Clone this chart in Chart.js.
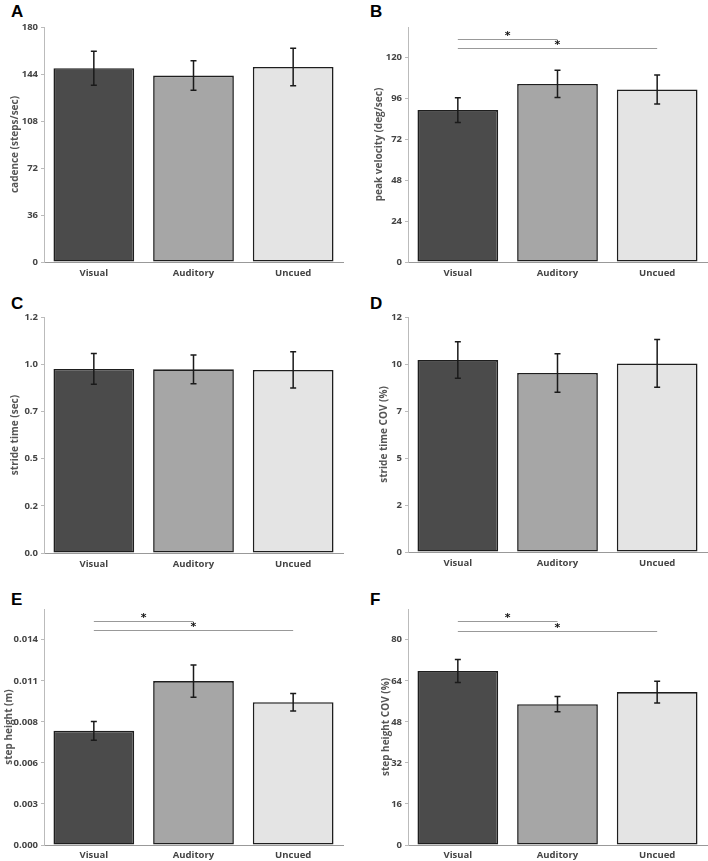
<!DOCTYPE html>
<html>
<head>
<meta charset="utf-8">
<script src="https://cdn.jsdelivr.net/npm/chart.js@4.4.0/dist/chart.umd.min.js"></script>
<style>
  body { margin: 0; background: #fff; width: 708px; height: 861px; position: relative; overflow: hidden; }
  canvas { position: absolute; }
  .lbl { position: absolute; font: bold 17px "Liberation Sans", Arial, sans-serif; color: #000; }
</style>
</head>
<body>
<div class="lbl" style="left:11px;top:2px">A</div>
<div class="lbl" style="left:370px;top:2px">B</div>
<div class="lbl" style="left:11px;top:294px">C</div>
<div class="lbl" style="left:370px;top:294px">D</div>
<div class="lbl" style="left:11px;top:590px">E</div>
<div class="lbl" style="left:370px;top:590px">F</div>
<canvas id="chartA"></canvas>
<canvas id="chartB"></canvas>
<canvas id="chartC"></canvas>
<canvas id="chartD"></canvas>
<canvas id="chartE"></canvas>
<canvas id="chartF"></canvas>
<script>
const conditions = ["Visual", "Auditory", "Uncued"];
const barColors = ["#4b4b4b", "#a6a6a6", "#e4e4e4"];

// A - cadence
const cadenceMean = [148.4, 142.8, 149.4];
const cadenceErr = [13.0, 11.3, 14.4];
const cadenceTicks = [0, 36, 72, 108, 144, 180];

// B - peak velocity
const velocityMean = [89.2, 104.6, 101.3];
const velocityErr = [7.3, 8.0, 8.5];
const velocityTicks = [0, 24, 48, 72, 96, 120];
const velocitySig = [[0, 1, 130.9], [0, 2, 125.5]];

// C - stride time
const strideMean = [0.936, 0.934, 0.931];
const strideErr = [0.078, 0.073, 0.092];
const strideTicks = [0, 0.24, 0.48, 0.72, 0.96, 1.2];

// D - stride time COV
const strideCovMean = [9.80, 9.14, 9.63];
const strideCovErr = [0.93, 0.98, 1.22];
const strideCovTicks = [0, 2.4, 4.8, 7.2, 9.6, 12];

// E - step height
const stepMean = [0.00779, 0.01118, 0.00974];
const stepErr = [0.00064, 0.0011, 0.0006];
const stepTicks = [0, 0.0028, 0.0056, 0.0084, 0.0112, 0.014];
const stepSig = [[0, 1, 0.01527], [0, 2, 0.01464]];

// F - step height COV
const stepCovMean = [67.8, 54.9, 59.6];
const stepCovErr = [4.5, 3.0, 4.2];
const stepCovTicks = [0, 16, 32, 48, 64, 80];
const stepCovSig = [[0, 1, 87.3], [0, 2, 83.6]];

const fontFam = "'Open Sans', sans-serif";

const errorBarPlugin = {
  id: "errorBars",
  afterDatasetsDraw(chart, args, opts) {
    const ctx = chart.ctx;
    const meta = chart.getDatasetMeta(0);
    const y = chart.scales.y;
    const means = chart.data.datasets[0].data;
    ctx.save();
    ctx.strokeStyle = "#1a1a1a";
    ctx.lineWidth = 1.5;
    meta.data.forEach((bar, i) => {
      const hi = y.getPixelForValue(means[i] + opts.errors[i]);
      const lo = y.getPixelForValue(means[i] - opts.errors[i]);
      ctx.beginPath();
      ctx.moveTo(bar.x, hi);
      ctx.lineTo(bar.x, lo);
      ctx.moveTo(bar.x - 3, hi);
      ctx.lineTo(bar.x + 3, hi);
      ctx.moveTo(bar.x - 3, lo);
      ctx.lineTo(bar.x + 3, lo);
      ctx.stroke();
    });
    (opts.sig || []).forEach((s) => {
      const x1 = meta.data[s[0]].x;
      const x2 = meta.data[s[1]].x;
      const py = Math.round(y.getPixelForValue(s[2])) + 0.5;
      ctx.strokeStyle = "#999";
      ctx.lineWidth = 1;
      ctx.beginPath();
      ctx.moveTo(x1, py);
      ctx.lineTo(x2, py);
      ctx.stroke();
      ctx.fillStyle = "#111";
      ctx.font = "bold 11px 'DejaVu Sans', sans-serif";
      ctx.textAlign = "center";
      ctx.textBaseline = "alphabetic";
      ctx.fillText("*", (x1 + x2) / 2, py - 1);
    });
    ctx.restore();
  },
};

const makeChart = function (id, cfg) {
  const canvas = document.getElementById(id);
  canvas.width = cfg.w;
  canvas.height = cfg.h;
  canvas.style.left = cfg.x + "px";
  canvas.style.top = cfg.y + "px";
  canvas.style.width = cfg.w + "px";
  canvas.style.height = cfg.h + "px";

  new Chart(canvas, {
    type: "bar",
    data: {
      labels: conditions,
      datasets: [
        {
          data: cfg.means,
          backgroundColor: barColors,
          borderColor: "#1e1e1e",
          borderWidth: 1.6,
          borderSkipped: false,
          barPercentage: 0.81,
          categoryPercentage: 1,
        },
      ],
    },
    options: {
      responsive: false,
      animation: false,
      devicePixelRatio: 1,
      layout: { padding: { top: cfg.top, right: cfg.right, left: 0, bottom: 0 } },
      plugins: {
        legend: { display: false },
        tooltip: { enabled: false },
        errorBars: { errors: cfg.errs, sig: cfg.sig },
      },
      scales: {
        x: {
          grid: { display: false, drawTicks: false },
          border: { color: "#999", width: 1 },
          ticks: { color: "#444", padding: cfg.xp, font: { family: fontFam, size: 9.5, weight: "bold" } },
          afterFit(scale) {
            scale.height = cfg.xh;
          },
        },
        y: {
          min: 0,
          max: cfg.max,
          grid: { drawOnChartArea: false, drawTicks: true, tickLength: 3, color: "#bbb" },
          border: { color: "#bbb", width: 1 },
          ticks: {
            color: "#444",
            padding: 3,
            font: { family: fontFam, size: 9.5, weight: "bold" },
            callback: (v) => v.toFixed(cfg.dec),
          },
          afterBuildTicks(scale) {
            scale.ticks = cfg.ticks.map((v) => ({ value: v }));
          },
          afterFit(scale) {
            scale.width = 44;
          },
          title: {
            display: true,
            text: cfg.title,
            color: "#555",
            padding: { top: cfg.tp, bottom: 0 },
            font: { family: fontFam, size: 10, weight: "bold" },
          },
        },
      },
    },
    plugins: [errorBarPlugin],
  });
};

makeChart("chartA", { x: 0, y: 0, w: 354, h: 290, top: 27, right: 11, xh: 28, xp: 6, tp: 9, max: 180,
  means: cadenceMean, errs: cadenceErr, ticks: cadenceTicks, dec: 0, title: "cadence (steps/sec)" });
makeChart("chartB", { x: 364, y: 0, w: 344, h: 290, top: 27, right: 1, xh: 28, xp: 6, tp: 9, max: 138,
  means: velocityMean, errs: velocityErr, ticks: velocityTicks, dec: 0, title: "peak velocity (deg/sec)", sig: velocitySig });
makeChart("chartC", { x: 0, y: 290, w: 354, h: 290, top: 27, right: 11, xh: 27, xp: 6, tp: 9, max: 1.2,
  means: strideMean, errs: strideErr, ticks: strideTicks, dec: 1, title: "stride time (sec)" });
makeChart("chartD", { x: 364, y: 290, w: 344, h: 290, top: 27, right: 1, xh: 28, xp: 6, tp: 14, max: 12,
  means: strideCovMean, errs: strideCovErr, ticks: strideCovTicks, dec: 0, title: "stride time COV (%)" });
makeChart("chartE", { x: 0, y: 580, w: 354, h: 281, top: 29, right: 11, xh: 16, xp: 5, tp: 3, max: 0.0161,
  means: stepMean, errs: stepErr, ticks: stepTicks, dec: 3, title: "step height (m)", sig: stepSig });
makeChart("chartF", { x: 364, y: 580, w: 344, h: 281, top: 29, right: 1, xh: 16, xp: 5, tp: 16, max: 92,
  means: stepCovMean, errs: stepCovErr, ticks: stepCovTicks, dec: 0, title: "step height COV (%)", sig: stepCovSig });
</script>
</body>
</html>
